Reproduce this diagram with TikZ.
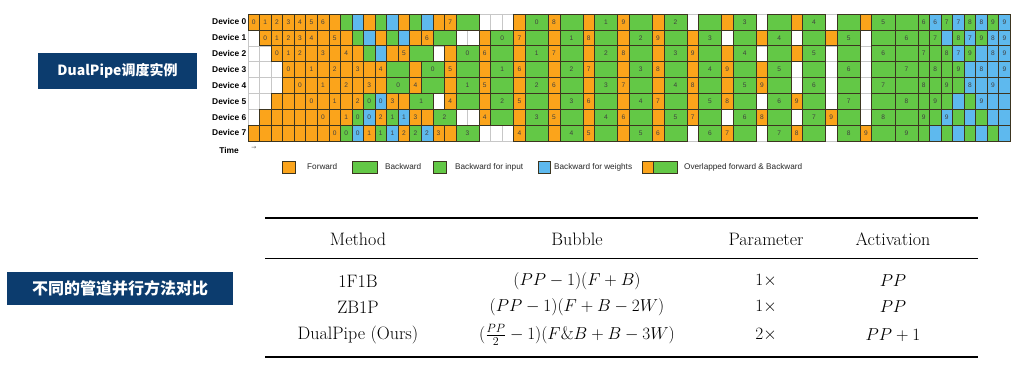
\documentclass[tikz,border=0pt]{standalone}
\usepackage{fontspec}
\newfontfamily\cjk{Noto Sans CJK SC}
\newfontfamily\lsans{Liberation Sans}
\definecolor{cO}{HTML}{FBA41B}
\definecolor{cG}{HTML}{63C846}
\definecolor{cL}{HTML}{5EB9EE}
\definecolor{navy}{HTML}{0C3C6E}
\definecolor{cellline}{HTML}{3C3520}
\tikzset{
  gridline/.style={draw=black!22, line width=0.4pt},
  cellrect/.style={draw=cellline, line width=0.6pt},
  celltext/.style={font=\lsans\fontsize{6.6}{7}\selectfont, text=black!75, inner sep=0pt},
  devlabel/.style={font=\lsans\bfseries\fontsize{8.4}{9}\selectfont, anchor=east, inner sep=0pt},
  legtext/.style={font=\lsans\fontsize{8.2}{9}\selectfont, anchor=west, inner sep=0pt, text=black!85},
  tabtext/.style={font=\fontsize{18}{20}\selectfont, inner sep=0pt},
  titlebox/.style={fill=navy, text=white, inner sep=0pt},
}
\newcommand\cellbox[5]{%
  \path[cellrect, fill=c#4] ({248+#2*11.55},{14+#1*15.86}) rectangle ({248+(#2+#3)*11.55},{14+(#1+1)*15.86});
  \node[celltext] (c-#1-#2) at ({248+(#2+#3/2)*11.55},{14+(#1+0.5)*15.86}) {#5};
}
\begin{document}
\begin{tikzpicture}[x=1pt,y=-1pt]
\useasboundingbox (0,0) rectangle (1017,366);
\fill[white] (0,0) rectangle (1017,366);
% background grid
\foreach \r in {0,...,8} \draw[gridline] (248,{14+\r*15.86}) -- ({248+66*11.55},{14+\r*15.86});
\foreach \s in {0,...,66} \draw[gridline] ({248+\s*11.55},14) -- ({248+\s*11.55},{14+8*15.86});
% device labels
\foreach \r in {0,...,7} \node[devlabel] (dev\r) at (246.5,{14+(\r+0.5)*15.86}) {Device \r};
% row 0
\foreach \s/\l/\c/\t in {0/1/O/0, 1/1/O/1, 2/1/O/2, 3/1/O/3, 4/1/O/4, 5/1/O/5, 6/1/O/6, 7/1/O/{}, 8/1/G/{}, 9/1/L/{}, 10/1/O/{}, 11/1/G/{}, 12/1/L/{}, 13/1/O/{}, 14/1/G/{}, 15/1/L/{}, 16/1/O/{}, 17/1/O/7, 18/2/G/{}, 23/1/O/{}, 24/2/G/0, 26/1/O/8, 27/2/G/{}, 29/1/O/{}, 30/2/G/1, 32/1/O/9, 33/2/G/{}, 35/1/O/{}, 36/2/G/2, 39/2/G/{}, 41/1/O/{}, 42/2/G/3, 45/2/G/{}, 47/1/O/{}, 48/2/G/4, 51/2/G/{}, 53/1/O/{}, 54/2/G/5, 56/2/G/{}, 58/1/G/6, 59/1/L/6, 60/1/G/7, 61/1/L/7, 62/1/G/8, 63/1/L/8, 64/1/G/9, 65/1/L/9}
  {\cellbox{0}{\s}{\l}{\c}{\t}}
% row 1
\foreach \s/\l/\c/\t in {1/1/O/0, 2/1/O/1, 3/1/O/2, 4/1/O/3, 5/1/O/4, 6/1/O/{}, 7/1/O/5, 8/1/O/{}, 9/1/G/{}, 10/1/L/{}, 11/1/O/{}, 12/1/G/{}, 13/1/L/{}, 14/1/O/{}, 15/1/O/6, 16/2/G/{}, 20/1/O/{}, 21/2/G/0, 23/1/O/7, 24/2/G/{}, 26/1/O/{}, 27/2/G/1, 29/1/O/8, 30/2/G/{}, 32/1/O/{}, 33/2/G/2, 35/1/O/9, 36/2/G/{}, 38/1/O/{}, 39/2/G/3, 42/2/G/{}, 44/1/O/{}, 45/2/G/4, 48/2/G/{}, 50/1/O/{}, 51/2/G/5, 54/2/G/{}, 56/2/G/6, 58/1/G/{}, 59/1/G/7, 60/1/L/{}, 61/1/G/8, 62/1/L/7, 63/1/G/9, 64/1/L/8, 65/1/L/9}
  {\cellbox{1}{\s}{\l}{\c}{\t}}
% row 2
\foreach \s/\l/\c/\t in {2/1/O/0, 3/1/O/1, 4/1/O/2, 5/1/O/{}, 6/1/O/3, 7/1/O/{}, 8/1/O/4, 9/1/O/{}, 10/1/G/{}, 11/1/L/{}, 12/1/O/{}, 13/1/O/5, 14/2/G/{}, 17/1/O/{}, 18/2/G/0, 20/1/O/6, 21/2/G/{}, 23/1/O/{}, 24/2/G/1, 26/1/O/7, 27/2/G/{}, 29/1/O/{}, 30/2/G/2, 32/1/O/8, 33/2/G/{}, 35/1/O/{}, 36/2/G/3, 38/1/O/9, 39/2/G/{}, 41/1/O/{}, 42/2/G/4, 45/2/G/{}, 47/1/O/{}, 48/2/G/5, 51/2/G/{}, 54/2/G/6, 56/2/G/{}, 58/1/G/7, 59/1/G/{}, 60/1/G/8, 61/1/L/7, 62/1/G/9, 63/1/L/{}, 64/1/L/8, 65/1/L/9}
  {\cellbox{2}{\s}{\l}{\c}{\t}}
% row 3
\foreach \s/\l/\c/\t in {3/1/O/0, 4/1/O/{}, 5/1/O/1, 6/1/O/{}, 7/1/O/2, 8/1/O/{}, 9/1/O/3, 10/1/O/{}, 11/1/O/4, 12/2/G/{}, 14/1/O/{}, 15/2/G/0, 17/1/O/5, 18/2/G/{}, 20/1/O/{}, 21/2/G/1, 23/1/O/6, 24/2/G/{}, 26/1/O/{}, 27/2/G/2, 29/1/O/7, 30/2/G/{}, 32/1/O/{}, 33/2/G/3, 35/1/O/8, 36/2/G/{}, 38/1/O/{}, 39/2/G/4, 41/1/O/9, 42/2/G/{}, 44/1/O/{}, 45/2/G/5, 48/2/G/{}, 51/2/G/6, 54/2/G/{}, 56/2/G/7, 58/1/G/{}, 59/1/G/8, 60/1/G/{}, 61/1/G/9, 62/1/L/{}, 63/1/L/8, 64/1/L/{}, 65/1/L/9}
  {\cellbox{3}{\s}{\l}{\c}{\t}}
% row 4
\foreach \s/\l/\c/\t in {3/1/O/{}, 4/1/O/0, 5/1/O/{}, 6/1/O/1, 7/1/O/{}, 8/1/O/2, 9/1/O/{}, 10/1/O/3, 11/1/O/{}, 12/2/G/0, 14/1/O/4, 15/2/G/{}, 17/1/O/{}, 18/2/G/1, 20/1/O/5, 21/2/G/{}, 23/1/O/{}, 24/2/G/2, 26/1/O/6, 27/2/G/{}, 29/1/O/{}, 30/2/G/3, 32/1/O/7, 33/2/G/{}, 35/1/O/{}, 36/2/G/4, 38/1/O/8, 39/2/G/{}, 41/1/O/{}, 42/2/G/5, 44/1/O/9, 45/2/G/{}, 48/2/G/6, 51/2/G/{}, 54/2/G/7, 56/2/G/{}, 58/1/G/8, 59/1/G/{}, 60/1/G/9, 61/1/G/{}, 62/1/L/8, 63/1/L/{}, 64/1/L/9, 65/1/L/{}}
  {\cellbox{4}{\s}{\l}{\c}{\t}}
% row 5
\foreach \s/\l/\c/\t in {2/1/O/{}, 3/1/O/{}, 4/1/O/{}, 5/1/O/0, 6/1/O/{}, 7/1/O/1, 8/1/O/{}, 9/1/O/2, 10/1/G/0, 11/1/L/0, 12/1/O/3, 13/1/O/{}, 14/2/G/1, 17/1/O/4, 18/2/G/{}, 20/1/O/{}, 21/2/G/2, 23/1/O/5, 24/2/G/{}, 26/1/O/{}, 27/2/G/3, 29/1/O/6, 30/2/G/{}, 32/1/O/{}, 33/2/G/4, 35/1/O/7, 36/2/G/{}, 38/1/O/{}, 39/2/G/5, 41/1/O/8, 42/2/G/{}, 45/2/G/6, 47/1/O/9, 48/2/G/{}, 51/2/G/7, 54/2/G/{}, 56/2/G/8, 58/1/G/{}, 59/1/G/9, 60/1/G/{}, 61/1/L/{}, 62/1/G/{}, 63/1/L/9, 64/1/L/{}, 65/1/L/{}}
  {\cellbox{5}{\s}{\l}{\c}{\t}}
% row 6
\foreach \s/\l/\c/\t in {1/1/O/{}, 2/1/O/{}, 3/1/O/{}, 4/1/O/{}, 5/1/O/{}, 6/1/O/0, 7/1/O/{}, 8/1/O/1, 9/1/G/0, 10/1/L/0, 11/1/O/2, 12/1/G/1, 13/1/L/1, 14/1/O/3, 15/1/O/{}, 16/2/G/2, 20/1/O/4, 21/2/G/{}, 23/1/O/{}, 24/2/G/3, 26/1/O/5, 27/2/G/{}, 29/1/O/{}, 30/2/G/4, 32/1/O/6, 33/2/G/{}, 35/1/O/{}, 36/2/G/5, 38/1/O/7, 39/2/G/{}, 42/2/G/6, 44/1/O/8, 45/2/G/{}, 48/2/G/7, 50/1/O/9, 51/2/G/{}, 54/2/G/8, 56/2/G/{}, 58/1/G/9, 59/1/G/{}, 60/1/L/9, 61/1/G/{}, 62/1/L/{}, 63/1/G/{}, 64/1/L/{}, 65/1/L/{}}
  {\cellbox{6}{\s}{\l}{\c}{\t}}
% row 7
\foreach \s/\l/\c/\t in {0/1/O/{}, 1/1/O/{}, 2/1/O/{}, 3/1/O/{}, 4/1/O/{}, 5/1/O/{}, 6/1/O/{}, 7/1/O/0, 8/1/G/0, 9/1/L/0, 10/1/O/1, 11/1/G/1, 12/1/L/1, 13/1/O/2, 14/1/G/2, 15/1/L/2, 16/1/O/3, 17/1/O/{}, 18/2/G/3, 23/1/O/4, 24/2/G/{}, 26/1/O/{}, 27/2/G/4, 29/1/O/5, 30/2/G/{}, 32/1/O/{}, 33/2/G/5, 35/1/O/6, 36/2/G/{}, 39/2/G/6, 41/1/O/7, 42/2/G/{}, 45/2/G/7, 47/1/O/8, 48/2/G/{}, 51/2/G/8, 53/1/O/9, 54/2/G/{}, 56/2/G/9, 58/1/G/{}, 59/1/L/{}, 60/1/G/{}, 61/1/L/{}, 62/1/G/{}, 63/1/L/{}, 64/1/G/{}, 65/1/L/{}}
  {\cellbox{7}{\s}{\l}{\c}{\t}}
% time
\node[devlabel, anchor=center] (time) at (229,150) {Time};
\node[font=\fontspec{DejaVu Sans}\fontsize{6}{6}\selectfont, text=black!60, inner sep=0pt] (tarrow) at (254,148) {→};
% legend
\path[cellrect, fill=cO] (282,161) rectangle (295,173);
\node[legtext] (lf) at (307,167) {Forward};
\path[cellrect, fill=cG] (352,161) rectangle (377,173);
\node[legtext] (lb) at (385,167) {Backward};
\path[cellrect, fill=cG] (433,161) rectangle (446,173);
\node[legtext] (lbi) at (455,167) {Backward for input};
\path[cellrect, fill=cL] (538,161) rectangle (550,173);
\node[legtext] (lbw) at (554,167) {Backward for weights};
\path[cellrect, fill=cO] (642,161) rectangle (653,173);
\path[cellrect, fill=cG] (653,161) rectangle (677,173);
\node[legtext] (lov) at (684,167) {Overlapped forward \& Backward};
% title boxes
\node[titlebox, minimum width=159pt, minimum height=36pt, font=\cjk\bfseries\fontsize{14}{16}\selectfont] (t1) at (117.5,71) {DualPipe调度实例};
\node[titlebox, minimum width=226pt, minimum height=33pt, font=\cjk\bfseries\fontsize{16}{18}\selectfont] (t2) at (120,288.5) {不同的管道并行方法对比};
% table
\draw[line width=1.3pt] (265,218) -- (978,218);
\draw[line width=0.7pt] (265,258) -- (978,258);
\draw[line width=1.3pt] (265,357) -- (978,357);
\node[tabtext] (h1) at (358,239) {Method};
\node[tabtext] (h2) at (577,239) {Bubble};
\node[tabtext] (h3) at (766,239) {Parameter};
\node[tabtext] (h4) at (893,239) {Activation};
\node[tabtext] (m1) at (358,281) {1F1B};
\node[tabtext] (b1) at (577,281) {$(PP-1)(F+B)$};
\node[tabtext] (p1) at (766,281) {$1\times$};
\node[tabtext] (a1) at (893,281) {$PP$};
\node[tabtext] (m2) at (358,307) {ZB1P};
\node[tabtext] (b2) at (577,307) {$(PP-1)(F+B-2W)$};
\node[tabtext] (p2) at (766,307) {$1\times$};
\node[tabtext] (a2) at (893,307) {$PP$};
\node[tabtext] (m3) at (358,335) {DualPipe (Ours)};
\node[tabtext] (b3) at (577,335) {$(\frac{PP}{2}-1)(F\&B+B-3W)$};
\node[tabtext] (p3) at (766,335) {$2\times$};
\node[tabtext] (a3) at (893,335) {$PP+1$};
\end{tikzpicture}
\end{document}
